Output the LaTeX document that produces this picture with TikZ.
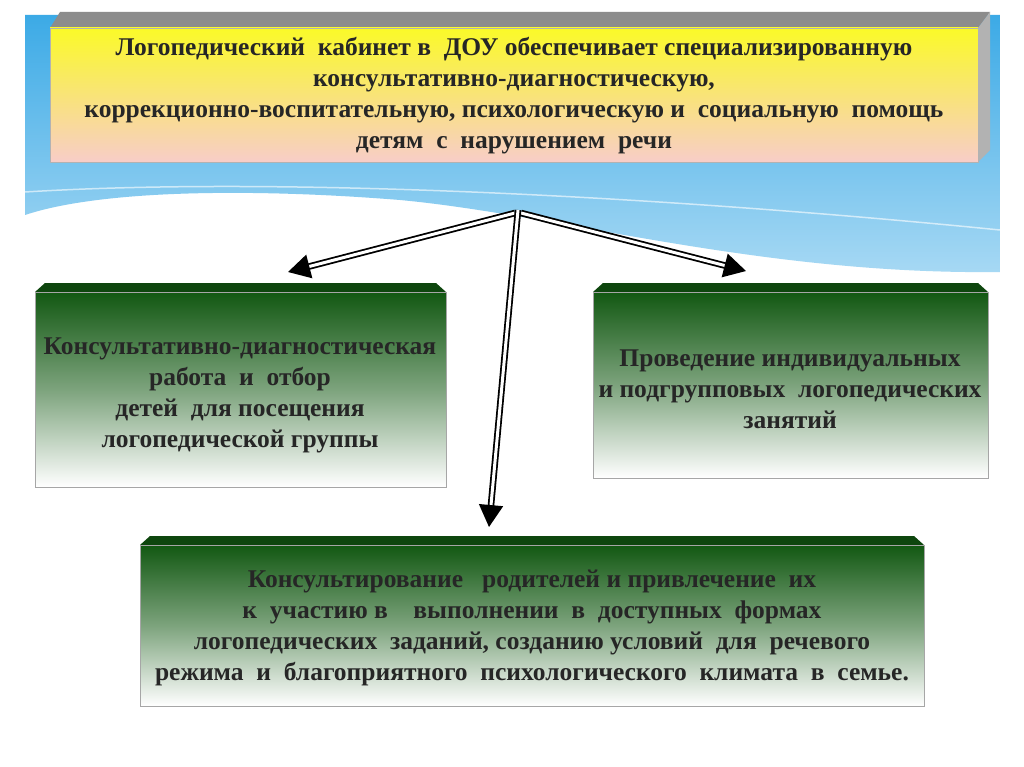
\documentclass[tikz,border=0pt]{standalone}
\usepackage{fontspec}
\setmainfont{Liberation Serif}
\usetikzlibrary{arrows.meta}
\definecolor{dkgreen}{RGB}{18,88,18}
\definecolor{skyblue}{RGB}{60,170,230}
\definecolor{paleyellow}{RGB}{250,250,40}
\definecolor{palepink}{RGB}{248,205,200}
\tikzstyle{greenbox} = [draw=black!35, top color=dkgreen, bottom color=white, middle color=dkgreen!55]
\tikzstyle{bevel} = [fill=dkgreen!80!black]
\tikzstyle{boxtext} = [font=\bfseries\fontsize{25.5}{31}\selectfont, align=center, text=black!85]
\tikzstyle{arrowpath} = [-{Triangle[length=22pt,width=24pt]}, line width=1.8pt, double=white, double distance=3pt]
\begin{document}
\begin{tikzpicture}[x=1pt, y=-1pt]
    \useasboundingbox (0,0) rectangle (1024,767);
    \fill[white] (0,0) rectangle (1024,767);
    % sky band
    \shade[top color=skyblue, bottom color=skyblue!45] (25,15) -- (1000,15) -- (1000,272)
        .. controls (760,275) and (560,215) .. (400,200) .. controls (250,188) and (100,190) .. (25,215) -- cycle;
    \draw[white, line width=1.5pt, opacity=.6] (25,192) .. controls (300,175) and (700,200) .. (1000,230);
    % top box
    \fill[black!45] (50,28) -- (60,12) -- (990,12) -- (978,28) -- cycle;
    \fill[black!30] (978,28) -- (990,12) -- (990,150) -- (978,162) -- cycle;
    \shade[top color=paleyellow, bottom color=palepink, draw=black!30] (50,28) rectangle (978,162);
    \node (main) [boxtext] at (514,96) {Логопедический \ кабинет в \ ДОУ обеспечивает специализированную\\
        консультативно-диагностическую,\\
        коррекционно-воспитательную, психологическую и \ социальную \ помощь\\
        детям \ с \ нарушением \ речи};
    % left box
    \fill[bevel] (35,292) -- (45,283) -- (436,283) -- (446,292) -- cycle;
    \shade[greenbox] (35,292) rectangle (446,487);
    \node (diag) [boxtext] at (240,395) {Консультативно-диагностическая\\ работа \ и \ отбор\\ детей \ для посещения\\ логопедической группы};
    % right box
    \fill[bevel] (593,292) -- (603,283) -- (978,283) -- (988,292) -- cycle;
    \shade[greenbox] (593,292) rectangle (988,478);
    \node (lessons) [boxtext] at (790,389) {Проведение индивидуальных\\ и подгрупповых \ логопедических\\ занятий};
    % bottom box
    \fill[bevel] (140,545) -- (150,536) -- (914,536) -- (924,545) -- cycle;
    \shade[greenbox] (140,545) rectangle (924,706);
    \node (parents) [boxtext] at (532,628) {Консультирование \ \ родителей и привлечение \ их\\
        к \ участию в \ \ \ выполнении \ в \ доступных \ формах\\
        логопедических \ заданий, созданию условий \ для \ речевого\\
        режима \ и \ благоприятного \ психологического \ климата \ в \ семье.};
    % arrows
    \coordinate (hub) at (518,213);
    \draw[arrowpath] ([xshift=-3pt]hub) -- (288,272);
    \draw[arrowpath] ([xshift=3pt]hub) -- (746,271);
    \draw[arrowpath] ([yshift=3pt]hub) -- (489,527);
\end{tikzpicture}
\end{document}
